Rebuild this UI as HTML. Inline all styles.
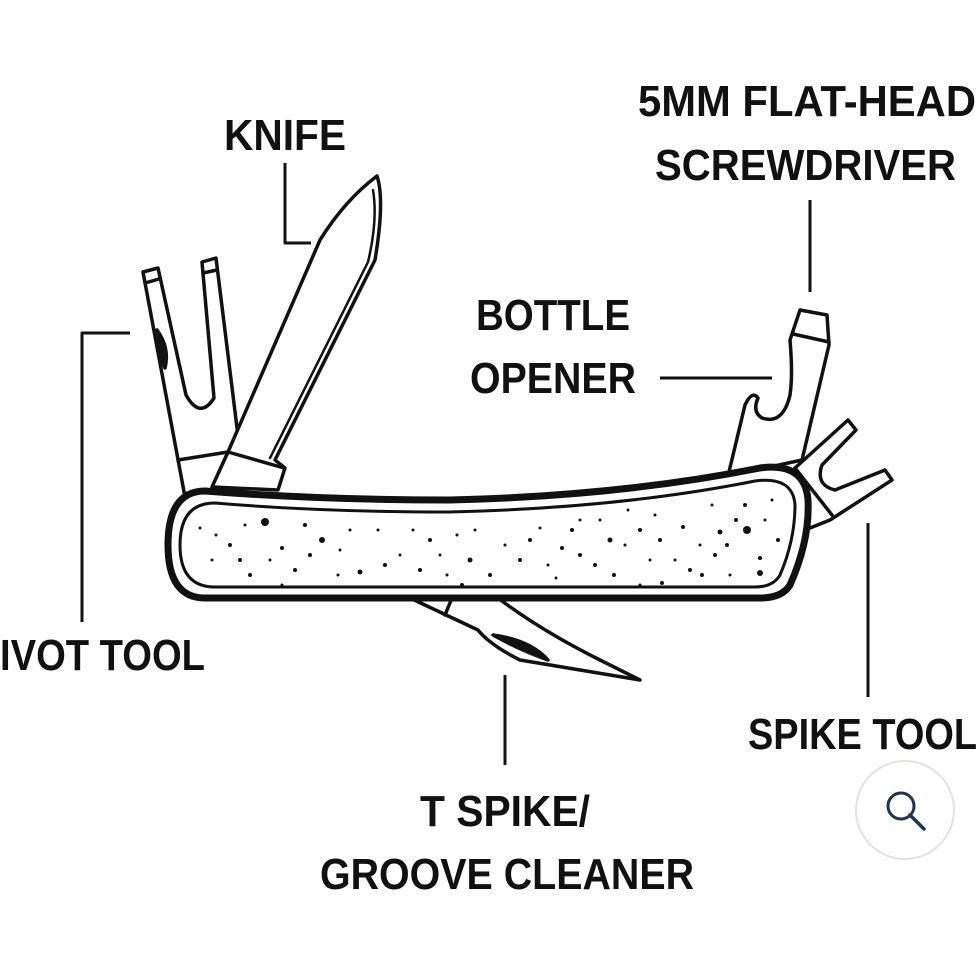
<!DOCTYPE html>
<html><head><meta charset="utf-8"><style>
html,body{margin:0;padding:0;background:#fff;}
svg{display:block;}
text{font-family:"Liberation Sans",sans-serif;font-weight:bold;fill:#111;}
</style></head><body>
<svg width="977" height="977" viewBox="0 0 977 977" xmlns="http://www.w3.org/2000/svg">
<g fill="none" stroke="#111" stroke-linecap="round" stroke-linejoin="round">
<g stroke-width="3" stroke-linecap="butt">
<polyline points="285,163 285,243 311,243"/>
<polyline points="130,333 82,333 82,622"/>
<line x1="810" y1="200" x2="810" y2="292"/>
<line x1="660" y1="378" x2="772" y2="378"/>
<line x1="868" y1="523" x2="868" y2="697"/>
<line x1="505" y1="675" x2="505" y2="765"/>
</g>
<g stroke-width="3.5" fill="#fff">
<path d="M185,497 L143,272 L158,268 L186,395 Q200,420 214,398 L202,262 L216,258 L240,452 L250,488 Z"/>
<line x1="145" y1="283" x2="159" y2="279"/>
<line x1="203" y1="273" x2="217" y2="270"/>
<line x1="178" y1="460" x2="228" y2="452"/>
<path d="M157,330 Q170,348 165,368 Q157,350 157,330Z" fill="#111"/>
</g>
<g stroke-width="3.5" fill="#fff">
<path d="M212,487 L228,452 L320,240 Q345,200 377,176 Q385,200 375,260 L275,460 L285,468 L278,490 Z"/>
<path d="M373,190 Q378,220 368,262 L270,458" stroke-width="2.5"/>
<line x1="228" y1="452" x2="284" y2="468"/>
</g>
<g stroke-width="3.5" fill="#fff">
<path d="M728,476 L745,405 Q752,390 758,398 Q752,412 762,418 Q783,425 790,395 Q793,375 790,340 L800,310 L827,315 L829,345 L802,460 Z"/>
<line x1="793" y1="334" x2="829" y2="342"/>
</g>
<g stroke-width="3.5" fill="#fff">
<path d="M795,468 L848,420 L856,430 L822,465 Q815,485 835,490 L885,470 L892,480 L830,520 L805,530 Z"/>
<line x1="795" y1="468" x2="832" y2="515"/>
</g>
<g stroke-width="3.5" fill="#fff">
<path d="M410,598 L478,630 Q490,645 520,660 L640,680 L600,660 Q540,630 498,598 Z"/>
<path d="M493,635 Q530,640 548,660 Q520,650 493,635Z" fill="#111"/>
<line x1="452" y1="598" x2="445" y2="615"/>
</g>
<path d="M205,491 Q320,500 450,500 Q620,496 760,468 Q805,462 808,500 Q810,540 790,585 Q782,598 760,598 L205,598 Q168,598 168,545 Q168,491 205,491 Z" fill="#fff" stroke-width="7"/>
<path d="M215,503 Q320,512 450,512 Q620,508 755,481 Q793,476 795,505 Q795,540 780,575 Q773,587 755,587 L215,587 Q180,587 180,545 Q180,503 215,503 Z" stroke-width="3"/>
</g>
<g fill="#111">
<circle cx="265" cy="522" r="4"/><circle cx="322" cy="540" r="3"/><circle cx="282" cy="548" r="2"/><circle cx="230" cy="545" r="2"/>
<circle cx="212" cy="560" r="1.5"/><circle cx="250" cy="575" r="2"/><circle cx="295" cy="570" r="2"/><circle cx="282" cy="585" r="1.5"/>
<circle cx="340" cy="550" r="1.5"/><circle cx="360" cy="572" r="2.5"/><circle cx="378" cy="530" r="1.5"/><circle cx="400" cy="555" r="1.5"/>
<circle cx="413" cy="530" r="1.5"/><circle cx="420" cy="570" r="2"/><circle cx="440" cy="555" r="1.5"/><circle cx="462" cy="585" r="2"/>
<circle cx="475" cy="530" r="1.5"/><circle cx="490" cy="575" r="2"/><circle cx="505" cy="545" r="1.5"/><circle cx="520" cy="560" r="2"/>
<circle cx="540" cy="528" r="1.5"/><circle cx="556" cy="578" r="1.5"/><circle cx="572" cy="530" r="2"/><circle cx="580" cy="555" r="2"/>
<circle cx="600" cy="520" r="1.5"/><circle cx="614" cy="575" r="2"/><circle cx="625" cy="545" r="1.5"/><circle cx="640" cy="530" r="2"/>
<circle cx="650" cy="560" r="1.5"/><circle cx="662" cy="583" r="2"/><circle cx="683" cy="527" r="2"/><circle cx="690" cy="570" r="2"/>
<circle cx="700" cy="545" r="1.5"/><circle cx="712" cy="505" r="1.5"/><circle cx="720" cy="532" r="2.5"/><circle cx="736" cy="520" r="2"/>
<circle cx="747" cy="530" r="4"/><circle cx="760" cy="558" r="2"/><circle cx="772" cy="500" r="1.5"/><circle cx="778" cy="540" r="2"/>
<circle cx="580" cy="520" r="1.5"/><circle cx="548" cy="565" r="1.5"/><circle cx="245" cy="525" r="1.5"/><circle cx="200" cy="528" r="1.5"/>
<circle cx="305" cy="525" r="2"/><circle cx="338" cy="575" r="1.5"/><circle cx="760" cy="573" r="3"/><circle cx="702" cy="575" r="2"/>
<circle cx="628" cy="510" r="1.5"/><circle cx="457" cy="535" r="1.5"/><circle cx="216" cy="535" r="1.5"/><circle cx="640" cy="585" r="1.5"/>
<circle cx="240" cy="560" r="2"/><circle cx="270" cy="560" r="1.5"/><circle cx="310" cy="555" r="2"/><circle cx="350" cy="530" r="1.5"/>
<circle cx="385" cy="565" r="2"/><circle cx="430" cy="540" r="2"/><circle cx="447" cy="575" r="1.5"/><circle cx="470" cy="560" r="2.5"/>
<circle cx="530" cy="540" r="2"/><circle cx="562" cy="548" r="2"/><circle cx="595" cy="565" r="2"/><circle cx="610" cy="540" r="2.5"/>
<circle cx="660" cy="540" r="2"/><circle cx="675" cy="560" r="1.5"/><circle cx="715" cy="555" r="2"/><circle cx="730" cy="575" r="1.5"/>
<circle cx="745" cy="505" r="2"/><circle cx="765" cy="520" r="1.5"/><circle cx="727" cy="545" r="2"/><circle cx="655" cy="515" r="1.5"/>
</g>
<text x="224" y="150" font-size="44" textLength="122" lengthAdjust="spacingAndGlyphs">KNIFE</text>
<text x="638" y="116" font-size="44" textLength="338" lengthAdjust="spacingAndGlyphs">5MM FLAT-HEAD</text>
<text x="655" y="180" font-size="44" textLength="301" lengthAdjust="spacingAndGlyphs">SCREWDRIVER</text>
<text x="476" y="330" font-size="44" textLength="154" lengthAdjust="spacingAndGlyphs">BOTTLE</text>
<text x="470" y="393" font-size="44" textLength="166" lengthAdjust="spacingAndGlyphs">OPENER</text>
<text x="0" y="670" font-size="44" textLength="205" lengthAdjust="spacingAndGlyphs">IVOT TOOL</text>
<text x="748" y="749" font-size="44" textLength="229" lengthAdjust="spacingAndGlyphs">SPIKE TOOL</text>
<text x="420" y="826" font-size="44" textLength="170" lengthAdjust="spacingAndGlyphs">T SPIKE/</text>
<text x="320" y="889" font-size="44" textLength="374" lengthAdjust="spacingAndGlyphs">GROOVE CLEANER</text>
<circle cx="905" cy="810" r="49" fill="#fff" stroke="#e4e2dc" stroke-width="2"/>
<circle cx="901" cy="806" r="13" fill="none" stroke="#1f3550" stroke-width="3"/>
<line x1="910" y1="815" x2="924" y2="829" stroke="#1f3550" stroke-width="3.5" stroke-linecap="round"/>
</svg>
</body></html>
